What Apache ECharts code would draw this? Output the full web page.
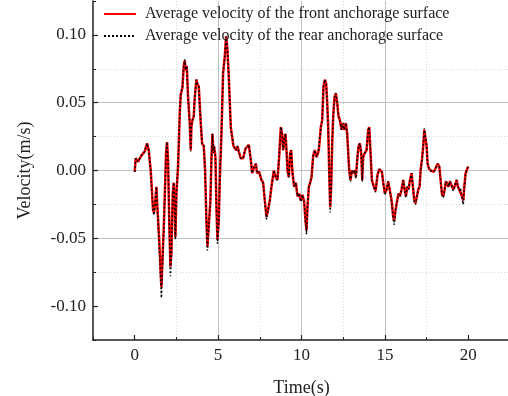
<!DOCTYPE html>
<html>
<head>
<meta charset="utf-8">
<script src="https://cdn.jsdelivr.net/npm/echarts@6/dist/echarts.min.js"></script>
<style>
html,body{margin:0;padding:0;background:#fff;}
#chart{width:508px;height:396px;}
</style>
</head>
<body>
<div id="chart"></div>
<script>
const seriesNames = ['Average velocity of the front anchorage surface', 'Average velocity of the rear anchorage surface'];
const xTicks = [0, 5, 10, 15, 20];
const yTicks = [-0.1, -0.05, 0, 0.05, 0.1];

const time = [
0.00,0.06,0.20,0.40,0.60,0.74,0.84,0.96,1.10,1.16,
1.24,1.30,1.36,1.46,1.60,1.76,1.88,1.94,2.00,2.06,
2.14,2.20,2.28,2.34,2.40,2.44,2.50,2.60,2.70,2.76,
2.86,2.94,3.00,3.06,3.12,3.20,3.30,3.36,3.40,3.46,
3.54,3.60,3.70,3.76,3.84,3.96,4.04,4.14,4.22,4.30,
4.36,4.44,4.54,4.60,4.66,4.72,4.76,4.84,4.90,4.96,
5.04,5.10,5.20,5.30,5.40,5.48,5.56,5.64,5.76,5.84,
5.92,6.00,6.08,6.16,6.24,6.36,6.50,6.64,6.84,6.96,
7.04,7.14,7.26,7.34,7.46,7.60,7.70,7.80,7.90,8.00,
8.10,8.20,8.34,8.46,8.56,8.66,8.76,8.84,8.90,8.96,
9.04,9.10,9.16,9.24,9.32,9.38,9.46,9.56,9.66,9.76,
9.86,9.96,10.06,10.16,10.24,10.30,10.36,10.44,10.52,10.60,
10.70,10.80,10.90,11.00,11.06,11.16,11.24,11.32,11.40,11.48,
11.54,11.60,11.66,11.72,11.78,11.84,11.90,11.98,12.06,12.14,
12.22,12.30,12.40,12.48,12.56,12.66,12.74,12.80,12.86,12.94,
13.02,13.10,13.20,13.26,13.34,13.42,13.50,13.58,13.64,13.70,
13.80,13.90,14.00,14.06,14.14,14.22,14.34,14.44,14.56,14.66,
14.74,14.82,14.90,15.00,15.10,15.20,15.30,15.40,15.50,15.56,
15.64,15.74,15.82,15.90,16.00,16.10,16.18,16.26,16.34,16.42,
16.50,16.60,16.70,16.76,16.84,16.92,17.00,17.08,17.14,17.22,
17.30,17.36,17.42,17.50,17.56,17.64,17.74,17.84,17.94,18.04,
18.16,18.26,18.34,18.42,18.50,18.58,18.66,18.74,18.82,18.90,
19.00,19.10,19.20,19.30,19.38,19.46,19.54,19.62,19.70,19.76,
19.84,19.94,20.00
];

const front = [
-0.001,0.009,0.0065,0.011,0.014,0.020,0.015,0.000,-0.029,-0.031,
-0.022,-0.012,-0.027,-0.049,-0.086,-0.036,0.013,0.021,0.008,-0.031,
-0.071,-0.061,-0.017,-0.009,-0.027,-0.049,-0.017,0.003,0.042,0.056,
0.061,0.077,0.081,0.074,0.077,0.054,0.035,0.015,0.032,0.037,
0.040,0.054,0.067,0.064,0.062,0.035,0.020,0.018,0.000,-0.037,
-0.056,-0.041,-0.022,0.008,0.027,0.013,0.018,0.010,-0.027,-0.051,
-0.037,-0.007,0.027,0.072,0.084,0.099,0.089,0.069,0.032,0.025,
0.018,0.019,0.015,0.018,0.014,0.009,0.009,0.016,0.019,0.008,
-0.002,0.002,0.005,-0.002,-0.001,-0.007,-0.009,-0.022,-0.034,-0.029,
-0.022,-0.012,0.000,-0.005,-0.007,0.010,0.032,0.027,0.015,0.022,
0.027,0.015,0.000,-0.005,0.013,0.015,-0.002,-0.012,-0.009,-0.019,
-0.017,-0.022,-0.018,-0.023,-0.037,-0.044,-0.027,-0.012,-0.009,-0.005,
0.011,0.015,0.010,0.013,0.018,0.032,0.037,0.062,0.067,0.064,
0.050,0.032,0.000,-0.027,-0.012,0.020,0.040,0.054,0.057,0.050,
0.040,0.037,0.030,0.035,0.030,0.035,0.027,0.013,0.000,-0.007,
0.000,-0.002,0.000,-0.005,0.008,0.018,0.020,0.013,-0.007,0.010,
0.013,0.015,0.030,0.032,0.013,-0.007,-0.012,-0.015,-0.003,0.001,
0.000,-0.001,-0.009,-0.017,-0.014,-0.008,-0.008,-0.022,-0.034,-0.037,
-0.029,-0.022,-0.017,-0.019,-0.014,-0.007,-0.014,-0.019,-0.012,-0.014,
-0.007,-0.002,-0.002,-0.022,-0.024,-0.019,-0.014,-0.012,0.000,0.008,
0.018,0.030,0.025,0.018,0.005,0.0015,0.000,-0.001,-0.001,0.000,
0.005,0.003,-0.007,-0.017,-0.019,-0.014,-0.008,-0.007,-0.012,-0.008,
-0.007,-0.014,-0.011,-0.007,-0.012,-0.014,-0.013,-0.019,-0.022,-0.012,
-0.002,0.0015,0.003
];

const rear = [
-0.001,0.009,0.0065,0.011,0.014,0.020,0.015,0.000,-0.030,-0.033,
-0.022,-0.012,-0.028,-0.052,-0.094,-0.037,0.013,0.021,0.008,-0.032,
-0.078,-0.063,-0.017,-0.009,-0.028,-0.051,-0.017,0.003,0.042,0.056,
0.061,0.077,0.082,0.074,0.077,0.054,0.035,0.014,0.032,0.037,
0.040,0.054,0.067,0.064,0.062,0.035,0.020,0.018,0.000,-0.038,
-0.059,-0.041,-0.022,0.008,0.027,0.013,0.018,0.010,-0.028,-0.054,
-0.037,-0.007,0.027,0.072,0.084,0.099,0.089,0.069,0.032,0.025,
0.018,0.019,0.015,0.018,0.014,0.009,0.009,0.016,0.019,0.008,
-0.002,0.002,0.005,-0.002,-0.001,-0.007,-0.009,-0.023,-0.036,-0.029,
-0.022,-0.012,0.000,-0.005,-0.007,0.010,0.032,0.027,0.015,0.022,
0.027,0.015,0.000,-0.005,0.013,0.015,-0.002,-0.012,-0.009,-0.019,
-0.017,-0.023,-0.018,-0.024,-0.038,-0.047,-0.027,-0.012,-0.009,-0.005,
0.011,0.015,0.010,0.013,0.018,0.032,0.037,0.062,0.067,0.064,
0.050,0.032,0.000,-0.031,-0.012,0.020,0.040,0.054,0.057,0.050,
0.040,0.037,0.030,0.035,0.030,0.035,0.027,0.013,0.000,-0.008,
0.000,-0.002,0.000,-0.006,0.008,0.018,0.020,0.013,-0.008,0.010,
0.013,0.015,0.030,0.032,0.013,-0.008,-0.012,-0.016,-0.003,0.001,
0.000,-0.001,-0.009,-0.018,-0.014,-0.008,-0.008,-0.023,-0.036,-0.040,
-0.029,-0.022,-0.017,-0.019,-0.014,-0.007,-0.014,-0.020,-0.012,-0.014,
-0.007,-0.002,-0.002,-0.023,-0.025,-0.019,-0.014,-0.012,0.000,0.008,
0.018,0.031,0.025,0.018,0.005,0.0015,0.000,-0.001,-0.001,0.000,
0.005,0.003,-0.008,-0.018,-0.020,-0.014,-0.008,-0.007,-0.012,-0.008,
-0.007,-0.015,-0.011,-0.007,-0.012,-0.015,-0.013,-0.020,-0.025,-0.012,
-0.002,0.0015,0.003
];

const FONT = 'Liberation Serif';
const AXIS_COLOR = '#222';
const gridBox = { left: 93, top: 1, width: 417, height: 339, outerBoundsMode: 'none', containLabel: false };

const chart = echarts.init(document.getElementById('chart'), null, { renderer: 'canvas' });
const option = {
  backgroundColor: '#fff',
  animation: false,
  grid: [
    Object.assign({}, gridBox),
    Object.assign({}, gridBox)
  ],
  legend: {
    orient: 'vertical',
    left: 103,
    top: 6,
    padding: 0,
    itemWidth: 32,
    itemHeight: 16,
    itemGap: 6,
    itemStyle: { color: 'rgba(0,0,0,0)', borderColor: 'rgba(0,0,0,0)', borderWidth: 0, opacity: 0 },
    textStyle: { fontFamily: FONT, fontSize: 16, color: '#222', padding: [0, 0, 0, 4] },
    data: seriesNames
  },
  xAxis: [
    {
      type: 'value', gridIndex: 0, min: -2.5, max: 22.5,
      name: 'Time(s)', nameLocation: 'middle', nameGap: 39,
      nameTextStyle: { fontFamily: FONT, fontSize: 18, color: '#222' },
      axisLine: { show: true, onZero: false, lineStyle: { color: AXIS_COLOR, width: 1.5 } },
      axisTick: { show: true, inside: true, length: 5, customValues: xTicks, lineStyle: { color: AXIS_COLOR, width: 1.2 } },
      axisLabel: { show: true, customValues: xTicks, margin: 7, fontFamily: FONT, fontSize: 17, color: '#222', formatter: v => String(v) },
      splitLine: { show: true, showMinLine: false, showMaxLine: false, lineStyle: { color: '#c2c2c2', width: 1 } }
    },
    {
      type: 'value', gridIndex: 1, min: -2.5, max: 22.5, interval: 5,
      axisLine: { show: false, onZero: false },
      axisTick: { show: true, inside: true, length: 3, lineStyle: { color: AXIS_COLOR, width: 1 } },
      axisLabel: { show: false },
      splitLine: { show: true, showMinLine: false, showMaxLine: false, lineStyle: { color: '#d8d8d8', width: 1, type: [1, 2] } }
    }
  ],
  yAxis: [
    {
      type: 'value', gridIndex: 0, min: -0.125, max: 0.125,
      name: 'Velocity(m/s)', nameLocation: 'middle', nameGap: 59,
      nameTextStyle: { fontFamily: FONT, fontSize: 18, color: '#222' },
      axisLine: { show: true, onZero: false, lineStyle: { color: AXIS_COLOR, width: 1.5 } },
      axisTick: { show: true, inside: true, length: 5, customValues: yTicks, lineStyle: { color: AXIS_COLOR, width: 1.2 } },
      axisLabel: { show: true, customValues: yTicks, margin: 7, fontFamily: FONT, fontSize: 17, color: '#222', formatter: v => v.toFixed(2) },
      splitLine: { show: true, showMinLine: false, showMaxLine: false, lineStyle: { color: '#c2c2c2', width: 1 } }
    },
    {
      type: 'value', gridIndex: 1, min: -0.125, max: 0.125, interval: 0.05,
      axisLine: { show: false, onZero: false },
      axisTick: { show: true, inside: true, length: 3, lineStyle: { color: AXIS_COLOR, width: 1 } },
      axisLabel: { show: false },
      splitLine: { show: true, showMinLine: false, showMaxLine: false, lineStyle: { color: '#d8d8d8', width: 1, type: [1, 2] } }
    }
  ],
  series: [
    {
      name: seriesNames[0], type: 'line', xAxisIndex: 0, yAxisIndex: 0,
      symbol: 'none', showSymbol: false, z: 3,
      lineStyle: { color: '#ff0000', width: 2.5, type: 'solid' },
      itemStyle: { color: '#ff0000' },
      data: time.map((t, i) => [t, front[i]])
    },
    {
      name: seriesNames[1], type: 'line', xAxisIndex: 0, yAxisIndex: 0,
      symbol: 'none', showSymbol: false, z: 4,
      lineStyle: { color: '#000000', width: 1.5, type: [2, 2] },
      itemStyle: { color: '#000000' },
      data: time.map((t, i) => [t, rear[i]])
    }
  ]
};
chart.setOption(option);
</script>
</body>
</html>
